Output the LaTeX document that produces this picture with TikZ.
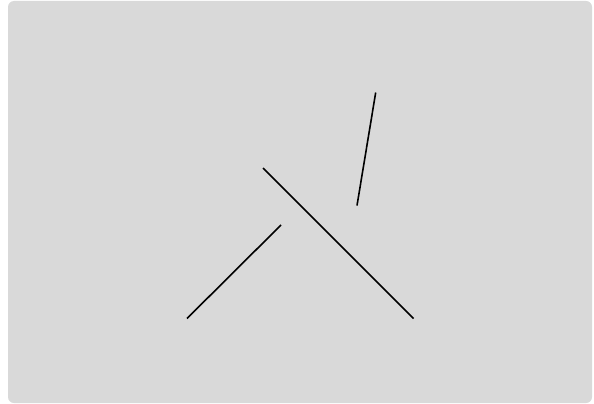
\documentclass[tikz,border=0pt]{standalone}
\definecolor{panel}{HTML}{D9D9D9}
\begin{document}
\begin{tikzpicture}[x=1pt,y=-1pt,
  stroke/.style={line width=1.6pt,black},
  panelbox/.style={fill=panel,draw=none,rounded corners=6pt}]
\useasboundingbox (0,0) rectangle (594,404);
\fill[white] (0,0) rectangle (594,404);
\path[panelbox] (8,1) rectangle (592,403);
\coordinate (a1) at (263,168);
\coordinate (a2) at (413.5,318.5);
\coordinate (b1) at (187,318.5);
\coordinate (b2) at (281,225);
\coordinate (c1) at (375.7,92.5);
\coordinate (c2) at (357,205.5);
\draw[stroke] (a1) -- (a2);
\draw[stroke] (b1) -- (b2);
\draw[stroke] (c1) -- (c2);
\end{tikzpicture}
\end{document}
